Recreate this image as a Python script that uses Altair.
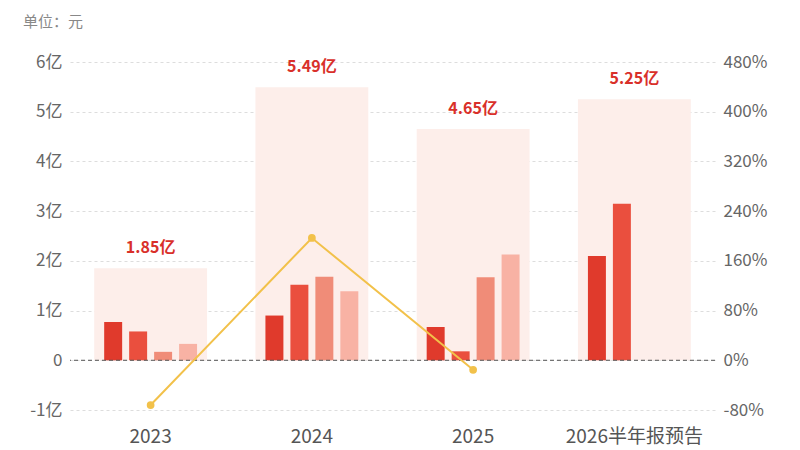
import altair as alt
import pandas as pd

years = ["2023", "2024", "2025", "2026半年报预告"]
totals = [1.85, 5.49, 4.65, 5.25]
total_labels = ["1.85亿", "5.49亿", "4.65亿", "5.25亿"]
quarters = ["Q1", "Q2", "Q3", "Q4"]
q_values = {
    "2023": [0.77, 0.58, 0.17, 0.33],
    "2024": [0.90, 1.52, 1.68, 1.39],
    "2025": [0.67, 0.18, 1.67, 2.13],
    "2026半年报预告": [2.10, 3.15],
}
growth_years = ["2023", "2024", "2025"]
growth = [-72.0, 196.8, -15.3]
q_colors = ["#e03a2c", "#ea4f3e", "#f08c78", "#f8b2a4"]

df_tot = pd.DataFrame({"year": years, "total": totals, "label": total_labels})
rows = []
for y in years:
    for i, v in enumerate(q_values[y]):
        rows.append({"year": y, "q": quarters[i], "v": v})
df_q = pd.DataFrame(rows)
df_g = pd.DataFrame({"year": growth_years, "g": growth})

FONT = "Noto Sans CJK SC"
xscale = alt.Scale(domain=years, paddingInner=0.3, paddingOuter=0.15)
yscale = alt.Scale(domain=[-1, 6], nice=False, zero=False)
xaxis = alt.Axis(labelAngle=0, labelFontSize=19, labelColor="#555555",
                 labelPadding=17, labelBaseline="top", domain=False, ticks=False,
                 labelFont=FONT, grid=False)
yaxis = alt.Axis(values=[-1, 0, 1, 2, 3, 4, 5, 6],
                 labelExpr="datum.value == 0 ? '0' : datum.value + '亿'",
                 labelFontSize=17, labelColor="#666666", labelPadding=8,
                 labelFont=FONT,
                 domain=False, ticks=False, grid=True, gridColor="#dddddd",
                 gridDash=[3, 3], gridWidth=1)


def X():
    return alt.X("year:N", scale=xscale, sort=years, title=None, axis=xaxis)


def Y(field):
    return alt.Y(field, scale=yscale, title=None, axis=yaxis)


bg = alt.Chart(df_tot).mark_bar(color="#fdeeea", width=alt.RelativeBandSize(1)).encode(
    x=X(), y=Y("total:Q"),
)

lbl = alt.Chart(df_tot).mark_text(color="#d9302a", fontSize=16, fontWeight="bold",
                                  dy=-20, font=FONT).encode(
    x=X(), y=Y("total:Q"), text="label:N",
)

bars = alt.Chart(df_q).mark_bar().encode(
    x=X(),
    xOffset=alt.XOffset("q:N", scale=alt.Scale(domain=quarters, paddingInner=0.28, paddingOuter=0.4)),
    y=Y("v:Q"),
    color=alt.Color("q:N", scale=alt.Scale(domain=quarters, range=q_colors), legend=None),
)

zero = alt.Chart(pd.DataFrame({"z": [0]})).mark_rule(color="#555555", strokeDash=[4, 3],
                                                      strokeWidth=1).encode(
    y=Y("z:Q")
)

unit = alt.Chart(pd.DataFrame({"t": ["单位：元"]})).mark_text(
    align="left", baseline="middle", fontSize=15, color="#888888", font=FONT
).encode(x=alt.value(-47), y=alt.value(-40), text="t:N")

left = alt.layer(bg, bars, lbl, zero, unit)

gscale = alt.Scale(domain=[-80, 480], nice=False, zero=False)
line = alt.Chart(df_g).mark_line(color="#f2c14a", strokeWidth=2,
                                 point=alt.OverlayMarkDef(color="#f2c14a", size=60, filled=True)).encode(
    x=X(),
    y=alt.Y("g:Q", scale=gscale, title=None,
            axis=alt.Axis(orient="right", values=[-80, 0, 80, 160, 240, 320, 400, 480],
                          labelExpr="datum.value + '%'", labelFontSize=17,
                          labelColor="#666666", labelPadding=8, labelFont=FONT,
                          domain=False, ticks=False, grid=False)),
)

chart = alt.layer(left, line).resolve_scale(y="independent").properties(
    width=645, height=348,
    background="white",
    autosize=alt.AutoSizeParams(type="none"),
    padding={"left": 62, "top": 54, "right": 77, "bottom": 40},
).configure_view(strokeWidth=0, stroke=None)

chart.save("out.html", embed_options={"renderer": "svg", "actions": False})
